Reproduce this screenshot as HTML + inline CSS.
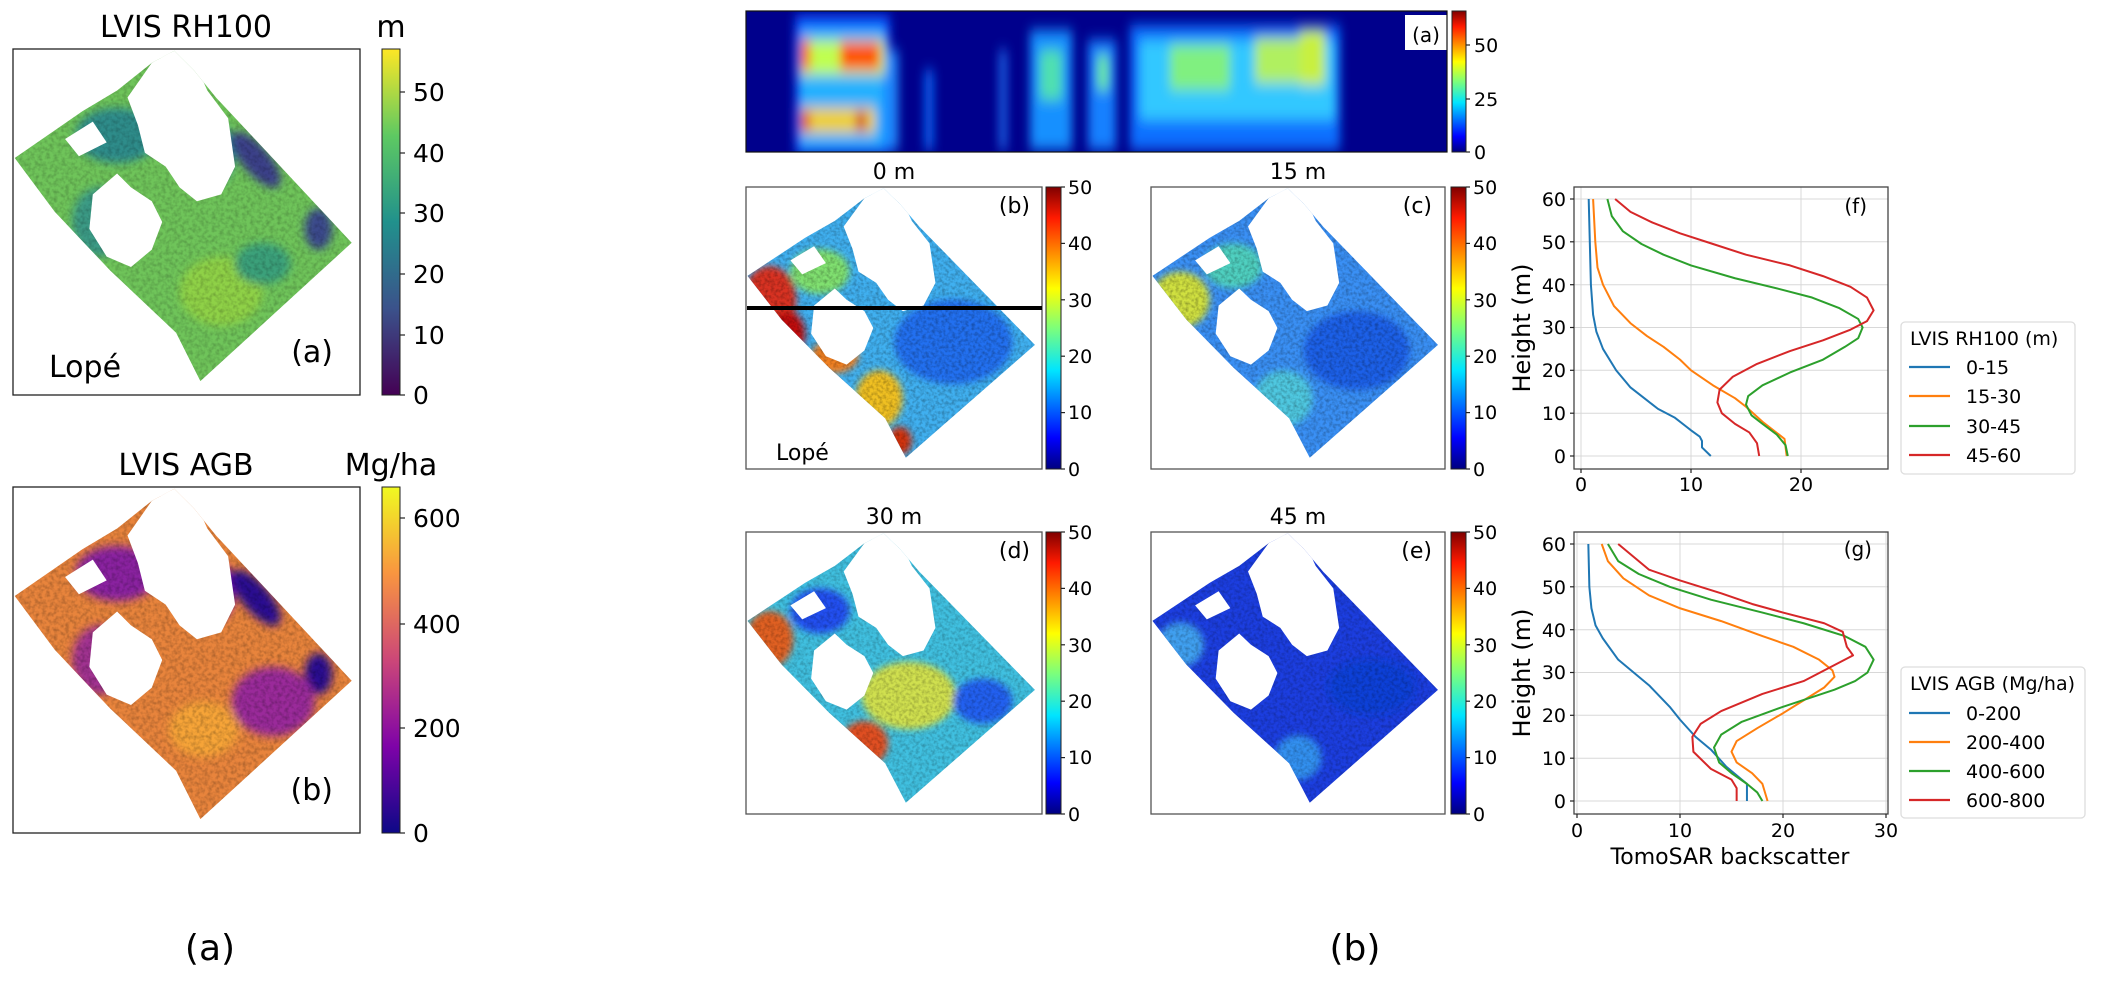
<!DOCTYPE html>
<html><head><meta charset="utf-8"><style>
html,body{margin:0;padding:0;background:#fff;}
svg{display:block;font-family:"DejaVu Sans","Liberation Sans",sans-serif;}
</style></head><body>
<svg width="2105" height="1000" viewBox="0 0 2105 1000" xmlns="http://www.w3.org/2000/svg">
<defs>
<linearGradient id="jet" x1="0" y1="1" x2="0" y2="0">
<stop offset="0" stop-color="#000080"/><stop offset="0.11" stop-color="#0000ff"/><stop offset="0.35" stop-color="#00e5ff"/><stop offset="0.5" stop-color="#7dff7a"/><stop offset="0.64" stop-color="#ffff00"/><stop offset="0.89" stop-color="#ff1a00"/><stop offset="1" stop-color="#800000"/></linearGradient>
<linearGradient id="vir" x1="0" y1="1" x2="0" y2="0">
<stop offset="0" stop-color="#440154"/><stop offset="0.25" stop-color="#3b528b"/><stop offset="0.5" stop-color="#21918c"/><stop offset="0.75" stop-color="#5ec962"/><stop offset="1" stop-color="#fde725"/></linearGradient>
<linearGradient id="pla" x1="0" y1="1" x2="0" y2="0">
<stop offset="0" stop-color="#0d0887"/><stop offset="0.25" stop-color="#7e03a8"/><stop offset="0.5" stop-color="#cc4778"/><stop offset="0.75" stop-color="#f89540"/><stop offset="1" stop-color="#f0f921"/></linearGradient>
<clipPath id="shape"><polygon points="0.5,31.5 20,18 30,12 40,4 46.5,0.5 52,6 58.5,14 97.6,56 54,96 47,82 28,64 12,47"/></clipPath>
<filter id="bl" x="-20%" y="-20%" width="140%" height="140%"><feGaussianBlur stdDeviation="1.2"/></filter>
<filter id="bl2" x="-20%" y="-20%" width="140%" height="140%"><feGaussianBlur stdDeviation="5 7"/></filter>
<filter id="noise"><feTurbulence type="fractalNoise" baseFrequency="0.9" numOctaves="2" seed="3"/><feColorMatrix type="matrix" values="0 0 0 0 0  0 0 0 0 0  0 0 0 0 0  0 0 0 -1.6 1.0"/></filter>
<g id="holes" fill="#fff">
<polygon points="33,14 40,4 46,0 52,3 56,12 62,20 64,34 60,42 53,44 48,40 44,34 38,30 36,22"/>
<polygon points="23,42 30,36 34,40 40,44 43,50 40,58 34,63 27,60 22,52"/>
<polygon points="15,26 23,21 27,27 19,31"/>
<polygon points="40,0 46,0 44,4"/>
</g>
</defs>

<!-- ===== Left column ===== -->
<text x="186" y="37" font-size="30" text-anchor="middle">LVIS RH100</text>
<text x="391" y="37" font-size="30" text-anchor="middle">m</text>
<rect x="13" y="49" width="347" height="346" fill="#fff" stroke="#222" stroke-width="1.3"/>
<svg x="13" y="49" width="347" height="346" viewBox="0 0 100 100" preserveAspectRatio="none">
<g clip-path="url(#shape)">
<rect width="100" height="100" fill="#6fc45a"/>
<g filter="url(#bl)">
<ellipse cx="30" cy="25" rx="12" ry="8" fill="#2d8c8a"/>
<ellipse cx="56" cy="30" rx="8" ry="10" fill="#2a7f8e"/>
<ellipse cx="70" cy="32" rx="4" ry="10" fill="#3b3f88" transform="rotate(-40 70 32)"/>
<ellipse cx="88" cy="52" rx="4" ry="6" fill="#3b4a8b"/>
<ellipse cx="60" cy="70" rx="12" ry="10" fill="#8fd146"/>
<ellipse cx="25" cy="50" rx="8" ry="10" fill="#3a9a85"/>
<ellipse cx="72" cy="62" rx="8" ry="6" fill="#3aa07a"/>
</g>
<rect width="100" height="100" fill="#1a6a60" filter="url(#noise)" opacity="0.25"/>
<use href="#holes"/>
</g></svg>
<text x="49" y="377" font-size="30">Lopé</text>
<text x="333" y="362" font-size="30" text-anchor="end">(a)</text>
<rect x="382" y="49" width="18" height="346" fill="url(#vir)" stroke="#222" stroke-width="1"/>
<g stroke="#222" stroke-width="1.2"><line x1="400" y1="92" x2="405" y2="92"/><line x1="400" y1="153" x2="405" y2="153"/><line x1="400" y1="213" x2="405" y2="213"/><line x1="400" y1="274" x2="405" y2="274"/><line x1="400" y1="335" x2="405" y2="335"/><line x1="400" y1="395" x2="405" y2="395"/></g>
<g font-size="25"><text x="413" y="101">50</text><text x="413" y="162">40</text><text x="413" y="222">30</text><text x="413" y="283">20</text><text x="413" y="344">10</text><text x="413" y="404">0</text></g>

<text x="186" y="475" font-size="30" text-anchor="middle">LVIS AGB</text>
<text x="391" y="475" font-size="30" text-anchor="middle">Mg/ha</text>
<rect x="13" y="487" width="347" height="346" fill="#fff" stroke="#222" stroke-width="1.3"/>
<svg x="13" y="487" width="347" height="346" viewBox="0 0 100 100" preserveAspectRatio="none">
<g clip-path="url(#shape)">
<rect width="100" height="100" fill="#e8843c"/>
<g filter="url(#bl)">
<ellipse cx="30" cy="25" rx="12" ry="8" fill="#8a22a0"/>
<ellipse cx="56" cy="30" rx="8" ry="10" fill="#6a10a8"/>
<ellipse cx="70" cy="32" rx="4" ry="10" fill="#2a0a90" transform="rotate(-40 70 32)"/>
<ellipse cx="88" cy="54" rx="4" ry="6" fill="#2a0a90"/>
<ellipse cx="75" cy="62" rx="12" ry="10" fill="#9a2c9a"/>
<ellipse cx="25" cy="50" rx="8" ry="10" fill="#a03090"/>
<ellipse cx="55" cy="70" rx="10" ry="8" fill="#f6a438"/>
</g>
<rect width="100" height="100" fill="#5a0a90" filter="url(#noise)" opacity="0.3"/>
<use href="#holes"/>
</g></svg>
<text x="333" y="800" font-size="30" text-anchor="end">(b)</text>
<rect x="382" y="487" width="18" height="346" fill="url(#pla)" stroke="#222" stroke-width="1"/>
<g stroke="#222" stroke-width="1.2"><line x1="400" y1="518" x2="405" y2="518"/><line x1="400" y1="624" x2="405" y2="624"/><line x1="400" y1="728" x2="405" y2="728"/><line x1="400" y1="833" x2="405" y2="833"/></g>
<g font-size="25"><text x="413" y="527">600</text><text x="413" y="633">400</text><text x="413" y="737">200</text><text x="413" y="842">0</text></g>
<text x="210" y="960" font-size="36" text-anchor="middle">(a)</text>
<text x="1355" y="960" font-size="36" text-anchor="middle">(b)</text>

<!-- ===== Top heatmap ===== -->
<svg x="746" y="11" width="701" height="141" viewBox="746 11 701 141">
<rect x="746" y="11" width="701" height="141" fill="#00008c"/>
<g filter="url(#bl2)">
<rect x="795" y="15" width="95" height="140" fill="#0a50ff"/>
<rect x="800" y="28" width="85" height="120" fill="#20b0ff"/>
<rect x="800" y="40" width="85" height="35" fill="#c0ff50"/>
<rect x="840" y="42" width="40" height="28" fill="#ff5000"/>
<rect x="801" y="40" width="9" height="30" fill="#ff4000"/>
<rect x="800" y="108" width="75" height="25" fill="#f0d020"/>
<rect x="801" y="112" width="9" height="18" fill="#e00000"/>
<rect x="856" y="112" width="10" height="18" fill="#d00000"/>
<rect x="888" y="50" width="10" height="100" fill="#2090ff"/>
<rect x="925" y="70" width="8" height="80" fill="#1070ff"/>
<rect x="1000" y="50" width="6" height="100" fill="#2080ff"/>
<rect x="1030" y="30" width="42" height="120" fill="#1890ff"/>
<rect x="1040" y="50" width="22" height="50" fill="#50e0b0"/>
<rect x="1088" y="40" width="28" height="110" fill="#1880ff"/>
<rect x="1098" y="55" width="10" height="35" fill="#70f090"/>
<rect x="1130" y="25" width="210" height="125" fill="#1070ff"/>
<rect x="1140" y="40" width="195" height="80" fill="#30c8ff"/>
<rect x="1170" y="45" width="60" height="45" fill="#80f080"/>
<rect x="1255" y="38" width="45" height="45" fill="#b0f060"/>
<rect x="1300" y="30" width="25" height="55" fill="#c8f040"/>
</g>
<rect x="1405" y="15" width="42" height="35" fill="#fff"/>
</svg>
<rect x="746" y="11" width="701" height="141" fill="none" stroke="#111" stroke-width="1.2"/>
<text x="1440" y="42" font-size="20" text-anchor="end">(a)</text>
<rect x="1452" y="11" width="14" height="141" fill="url(#jet)" stroke="#222" stroke-width="1"/>
<g stroke="#222" stroke-width="1.2"><line x1="1466" y1="45" x2="1470" y2="45"/><line x1="1466" y1="99" x2="1470" y2="99"/><line x1="1466" y1="152" x2="1470" y2="152"/></g>
<g font-size="19"><text x="1474" y="52">50</text><text x="1474" y="106">25</text><text x="1474" y="159">0</text></g>

<!-- ===== Middle maps ===== -->
<g font-size="22" text-anchor="middle"><text x="894" y="179">0 m</text><text x="1298" y="179">15 m</text><text x="894" y="524">30 m</text><text x="1298" y="524">45 m</text></g>

<rect x="746" y="187" width="296" height="282" fill="#fff" stroke="#555" stroke-width="1.3"/>
<svg x="746" y="187" width="296" height="282" viewBox="0 0 100 100" preserveAspectRatio="none">
<g clip-path="url(#shape)">
<rect width="100" height="100" fill="#40b0f0"/>
<g filter="url(#bl)">
<ellipse cx="8" cy="40" rx="9" ry="12" fill="#d83020"/>
<ellipse cx="14" cy="52" rx="6" ry="8" fill="#c01010"/>
<ellipse cx="25" cy="30" rx="10" ry="8" fill="#80e070"/>
<ellipse cx="70" cy="55" rx="20" ry="15" fill="#2070f0"/>
<ellipse cx="45" cy="75" rx="8" ry="10" fill="#f0c020"/>
<ellipse cx="52" cy="90" rx="4" ry="5" fill="#d03010"/>
<ellipse cx="30" cy="60" rx="8" ry="6" fill="#f08020"/>
</g>
<rect width="100" height="100" fill="#0030c0" filter="url(#noise)" opacity="0.35"/>
<use href="#holes"/>
</g></svg>
<line x1="747" y1="308" x2="1042" y2="308" stroke="#000" stroke-width="4"/>
<text x="1030" y="213" font-size="22" text-anchor="end">(b)</text>
<text x="776" y="460" font-size="22">Lopé</text>

<rect x="1151" y="187" width="294" height="282" fill="#fff" stroke="#555" stroke-width="1.3"/>
<svg x="1151" y="187" width="294" height="282" viewBox="0 0 100 100" preserveAspectRatio="none">
<g clip-path="url(#shape)">
<rect width="100" height="100" fill="#3a90f5"/>
<g filter="url(#bl)">
<ellipse cx="10" cy="40" rx="10" ry="10" fill="#d0e040"/>
<ellipse cx="28" cy="28" rx="10" ry="8" fill="#50d0c0"/>
<ellipse cx="70" cy="58" rx="18" ry="14" fill="#1f60e8"/>
<ellipse cx="45" cy="75" rx="10" ry="10" fill="#50c8e0"/>
</g>
<rect width="100" height="100" fill="#0020b0" filter="url(#noise)" opacity="0.35"/>
<use href="#holes"/>
</g></svg>
<text x="1432" y="213" font-size="22" text-anchor="end">(c)</text>

<rect x="746" y="532" width="296" height="282" fill="#fff" stroke="#555" stroke-width="1.3"/>
<svg x="746" y="532" width="296" height="282" viewBox="0 0 100 100" preserveAspectRatio="none">
<g clip-path="url(#shape)">
<rect width="100" height="100" fill="#40c0e0"/>
<g filter="url(#bl)">
<ellipse cx="8" cy="38" rx="8" ry="10" fill="#e06020"/>
<ellipse cx="25" cy="28" rx="10" ry="8" fill="#2050f0"/>
<ellipse cx="55" cy="58" rx="16" ry="12" fill="#d0e050"/>
<ellipse cx="40" cy="75" rx="8" ry="8" fill="#e05020"/>
<ellipse cx="80" cy="60" rx="10" ry="8" fill="#2060f0"/>
</g>
<rect width="100" height="100" fill="#0030c0" filter="url(#noise)" opacity="0.3"/>
<use href="#holes"/>
</g></svg>
<text x="1030" y="558" font-size="22" text-anchor="end">(d)</text>

<rect x="1151" y="532" width="294" height="282" fill="#fff" stroke="#555" stroke-width="1.3"/>
<svg x="1151" y="532" width="294" height="282" viewBox="0 0 100 100" preserveAspectRatio="none">
<g clip-path="url(#shape)">
<rect width="100" height="100" fill="#1c3ee0"/>
<g filter="url(#bl)">
<ellipse cx="10" cy="40" rx="8" ry="8" fill="#40a0f0"/>
<ellipse cx="75" cy="55" rx="15" ry="10" fill="#1040d8"/>
<ellipse cx="50" cy="80" rx="8" ry="8" fill="#3090f0"/>
</g>
<rect width="100" height="100" fill="#000090" filter="url(#noise)" opacity="0.3"/>
<use href="#holes"/>
</g></svg>
<text x="1432" y="558" font-size="22" text-anchor="end">(e)</text>

<g>
<rect x="1046" y="187" width="15" height="282" fill="url(#jet)" stroke="#222" stroke-width="1"/>
<rect x="1451" y="187" width="15" height="282" fill="url(#jet)" stroke="#222" stroke-width="1"/>
<rect x="1046" y="532" width="15" height="282" fill="url(#jet)" stroke="#222" stroke-width="1"/>
<rect x="1451" y="532" width="15" height="282" fill="url(#jet)" stroke="#222" stroke-width="1"/>
</g>
<g font-size="19" stroke-width="1.2">
<g transform="translate(1061,187)"><g stroke="#222"><line x1="0" y1="0" x2="4" y2="0"/><line x1="0" y1="56.4" x2="4" y2="56.4"/><line x1="0" y1="112.8" x2="4" y2="112.8"/><line x1="0" y1="169.2" x2="4" y2="169.2"/><line x1="0" y1="225.6" x2="4" y2="225.6"/><line x1="0" y1="282" x2="4" y2="282"/></g><text x="7" y="7">50</text><text x="7" y="63">40</text><text x="7" y="120">30</text><text x="7" y="176">20</text><text x="7" y="232">10</text><text x="7" y="289">0</text></g>
<g transform="translate(1466,187)"><g stroke="#222"><line x1="0" y1="0" x2="4" y2="0"/><line x1="0" y1="56.4" x2="4" y2="56.4"/><line x1="0" y1="112.8" x2="4" y2="112.8"/><line x1="0" y1="169.2" x2="4" y2="169.2"/><line x1="0" y1="225.6" x2="4" y2="225.6"/><line x1="0" y1="282" x2="4" y2="282"/></g><text x="7" y="7">50</text><text x="7" y="63">40</text><text x="7" y="120">30</text><text x="7" y="176">20</text><text x="7" y="232">10</text><text x="7" y="289">0</text></g>
<g transform="translate(1061,532)"><g stroke="#222"><line x1="0" y1="0" x2="4" y2="0"/><line x1="0" y1="56.4" x2="4" y2="56.4"/><line x1="0" y1="112.8" x2="4" y2="112.8"/><line x1="0" y1="169.2" x2="4" y2="169.2"/><line x1="0" y1="225.6" x2="4" y2="225.6"/><line x1="0" y1="282" x2="4" y2="282"/></g><text x="7" y="7">50</text><text x="7" y="63">40</text><text x="7" y="120">30</text><text x="7" y="176">20</text><text x="7" y="232">10</text><text x="7" y="289">0</text></g>
<g transform="translate(1466,532)"><g stroke="#222"><line x1="0" y1="0" x2="4" y2="0"/><line x1="0" y1="56.4" x2="4" y2="56.4"/><line x1="0" y1="112.8" x2="4" y2="112.8"/><line x1="0" y1="169.2" x2="4" y2="169.2"/><line x1="0" y1="225.6" x2="4" y2="225.6"/><line x1="0" y1="282" x2="4" y2="282"/></g><text x="7" y="7">50</text><text x="7" y="63">40</text><text x="7" y="120">30</text><text x="7" y="176">20</text><text x="7" y="232">10</text><text x="7" y="289">0</text></g>
</g>

<!-- ===== (f) ===== -->
<g stroke="#d8d8d8" stroke-width="1">
<line x1="1581" y1="187" x2="1581" y2="469"/><line x1="1691" y1="187" x2="1691" y2="469"/><line x1="1801" y1="187" x2="1801" y2="469"/>
<line x1="1574" y1="456" x2="1888" y2="456"/><line x1="1574" y1="413.2" x2="1888" y2="413.2"/><line x1="1574" y1="370.3" x2="1888" y2="370.3"/><line x1="1574" y1="327.5" x2="1888" y2="327.5"/><line x1="1574" y1="284.7" x2="1888" y2="284.7"/><line x1="1574" y1="241.8" x2="1888" y2="241.8"/><line x1="1574" y1="199" x2="1888" y2="199"/>
</g>
<rect x="1835" y="203" width="45" height="30" fill="#fff"/>
<g transform="translate(1581,456) scale(11,-4.283)" fill="none" stroke-width="2" stroke-linejoin="round">
<polyline vector-effect="non-scaling-stroke" stroke="#1f77b4" points="0.7,60 0.8,50 0.9,40 1.1,33 1.4,29 2,25 3.2,20 4.5,16 6,13 7,11 8.5,9 9.5,7 10,6 10.8,4.5 11,3.5 11,2 11.8,0"/>
<polyline vector-effect="non-scaling-stroke" stroke="#ff7f0e" points="1.1,60 1.3,50 1.5,44 2,40 3,35 4.5,31 6,28 7.5,25.5 9,22.5 10,20 12,16.5 14,13.5 15,11.5 16.5,8 18.5,4 18.7,0"/>
<polyline vector-effect="non-scaling-stroke" stroke="#2ca02c" points="2.4,60 2.8,56 3.8,52.5 5.5,49.5 7.5,47 10,44.5 14,41.5 18,39 21,37 23.5,34.5 25.2,32 25.6,30 25.2,27.5 24,25.5 22,22.5 19,19.5 16.5,16.5 15.2,14 15,12 15.5,9.5 16.5,7.5 17.8,5 18.6,2.5 18.8,0"/>
<polyline vector-effect="non-scaling-stroke" stroke="#d62728" points="3.1,60 4.5,57 6.5,54.5 9,52 12,49.5 15,47 19,44.5 22,42 24.5,39.5 26,37 26.6,34 26,31.5 24.5,29.5 22,27 19,24.5 16,21.5 13.8,18.5 12.6,15.5 12.4,12.5 12.8,10 14,7.5 15.3,5.5 16,3 16.2,0"/>
</g>
<rect x="1574" y="187" width="314" height="282" fill="none" stroke="#444" stroke-width="1.3"/>
<text x="1867" y="213" font-size="20" text-anchor="end">(f)</text>
<g stroke="#222" stroke-width="1.2"><line x1="1570" y1="199" x2="1574" y2="199"/><line x1="1570" y1="241.8" x2="1574" y2="241.8"/><line x1="1570" y1="284.7" x2="1574" y2="284.7"/><line x1="1570" y1="327.5" x2="1574" y2="327.5"/><line x1="1570" y1="370.3" x2="1574" y2="370.3"/><line x1="1570" y1="413.2" x2="1574" y2="413.2"/><line x1="1570" y1="456" x2="1574" y2="456"/>
<line x1="1581" y1="469" x2="1581" y2="473"/><line x1="1691" y1="469" x2="1691" y2="473"/><line x1="1801" y1="469" x2="1801" y2="473"/></g>
<g font-size="19" text-anchor="end"><text x="1566" y="206">60</text><text x="1566" y="249">50</text><text x="1566" y="292">40</text><text x="1566" y="334">30</text><text x="1566" y="377">20</text><text x="1566" y="420">10</text><text x="1566" y="463">0</text></g>
<g font-size="19" text-anchor="middle"><text x="1581" y="491">0</text><text x="1691" y="491">10</text><text x="1801" y="491">20</text></g>
<text transform="translate(1530,328) rotate(-90)" font-size="24" text-anchor="middle">Height (m)</text>
<rect x="1901" y="322" width="174" height="152" rx="4" fill="#fff" stroke="#ddd" stroke-width="1.3"/>
<text x="1910" y="345" font-size="19">LVIS RH100 (m)</text>
<g stroke-width="2.2"><line x1="1909" y1="367" x2="1950" y2="367" stroke="#1f77b4"/><line x1="1909" y1="396" x2="1950" y2="396" stroke="#ff7f0e"/><line x1="1909" y1="426" x2="1950" y2="426" stroke="#2ca02c"/><line x1="1909" y1="455" x2="1950" y2="455" stroke="#d62728"/></g>
<g font-size="19"><text x="1966" y="374">0-15</text><text x="1966" y="403">15-30</text><text x="1966" y="433">30-45</text><text x="1966" y="462">45-60</text></g>

<!-- ===== (g) ===== -->
<g stroke="#d8d8d8" stroke-width="1">
<line x1="1577" y1="532" x2="1577" y2="814"/><line x1="1680" y1="532" x2="1680" y2="814"/><line x1="1783" y1="532" x2="1783" y2="814"/><line x1="1886" y1="532" x2="1886" y2="814"/>
<line x1="1574" y1="801" x2="1888" y2="801"/><line x1="1574" y1="758.2" x2="1888" y2="758.2"/><line x1="1574" y1="715.3" x2="1888" y2="715.3"/><line x1="1574" y1="672.5" x2="1888" y2="672.5"/><line x1="1574" y1="629.7" x2="1888" y2="629.7"/><line x1="1574" y1="586.8" x2="1888" y2="586.8"/><line x1="1574" y1="544" x2="1888" y2="544"/>
</g>
<rect x="1835" y="546" width="45" height="30" fill="#fff"/>
<g transform="translate(1577,801) scale(10.3,-4.283)" fill="none" stroke-width="2" stroke-linejoin="round">
<polyline vector-effect="non-scaling-stroke" stroke="#1f77b4" points="1.1,60 1.2,50 1.4,45 1.8,41 2.5,38 4,33 5.5,30 7,27 9,22 10,19 11.5,15 13,12 14.5,8 16,5 16.5,4 16.5,0"/>
<polyline vector-effect="non-scaling-stroke" stroke="#ff7f0e" points="2.4,60 3,56 4.5,52 7,48 10,45 14,42 18,38.5 21,36 23.5,33 24.8,30.5 25,29 24,26.5 22,23.5 20,20.5 17.5,17 15.5,14 15,11.5 15.5,9 17,6.5 18,4 18.5,0"/>
<polyline vector-effect="non-scaling-stroke" stroke="#2ca02c" points="3,60 4,56 6,53 9,50 13,47 18,44 22,41.5 26,38.5 28,36 28.8,33 28.2,30 27,28 25,26 20,22 16,18.5 14,15.5 13.3,12.5 13.8,9 15,6.5 16.5,4 17.5,2 18,0"/>
<polyline vector-effect="non-scaling-stroke" stroke="#d62728" points="4,60 5.5,57 7,54 10,51.5 14,48.5 17,46 20,44 24,41.5 25.8,39.5 26.2,36 26.8,34 22,28 18,25 14,21 12,18 11.2,15 11.3,11.5 13,7.5 15,5 15.5,3 15.5,0"/>
</g>
<rect x="1574" y="532" width="314" height="282" fill="none" stroke="#444" stroke-width="1.3"/>
<text x="1872" y="556" font-size="20" text-anchor="end">(g)</text>
<g stroke="#222" stroke-width="1.2"><line x1="1570" y1="544" x2="1574" y2="544"/><line x1="1570" y1="586.8" x2="1574" y2="586.8"/><line x1="1570" y1="629.7" x2="1574" y2="629.7"/><line x1="1570" y1="672.5" x2="1574" y2="672.5"/><line x1="1570" y1="715.3" x2="1574" y2="715.3"/><line x1="1570" y1="758.2" x2="1574" y2="758.2"/><line x1="1570" y1="801" x2="1574" y2="801"/>
<line x1="1577" y1="814" x2="1577" y2="818"/><line x1="1680" y1="814" x2="1680" y2="818"/><line x1="1783" y1="814" x2="1783" y2="818"/><line x1="1886" y1="814" x2="1886" y2="818"/></g>
<g font-size="19" text-anchor="end"><text x="1566" y="551">60</text><text x="1566" y="594">50</text><text x="1566" y="637">40</text><text x="1566" y="679">30</text><text x="1566" y="722">20</text><text x="1566" y="765">10</text><text x="1566" y="808">0</text></g>
<g font-size="19" text-anchor="middle"><text x="1577" y="837">0</text><text x="1680" y="837">10</text><text x="1783" y="837">20</text><text x="1886" y="837">30</text></g>
<text x="1730" y="864" font-size="22" text-anchor="middle">TomoSAR backscatter</text>
<text transform="translate(1530,673) rotate(-90)" font-size="24" text-anchor="middle">Height (m)</text>
<rect x="1901" y="667" width="184" height="151" rx="4" fill="#fff" stroke="#ddd" stroke-width="1.3"/>
<text x="1910" y="690" font-size="19">LVIS AGB (Mg/ha)</text>
<g stroke-width="2.2"><line x1="1909" y1="713" x2="1950" y2="713" stroke="#1f77b4"/><line x1="1909" y1="742" x2="1950" y2="742" stroke="#ff7f0e"/><line x1="1909" y1="771" x2="1950" y2="771" stroke="#2ca02c"/><line x1="1909" y1="800" x2="1950" y2="800" stroke="#d62728"/></g>
<g font-size="19"><text x="1966" y="720">0-200</text><text x="1966" y="749">200-400</text><text x="1966" y="778">400-600</text><text x="1966" y="807">600-800</text></g>
</svg>
</body></html>
